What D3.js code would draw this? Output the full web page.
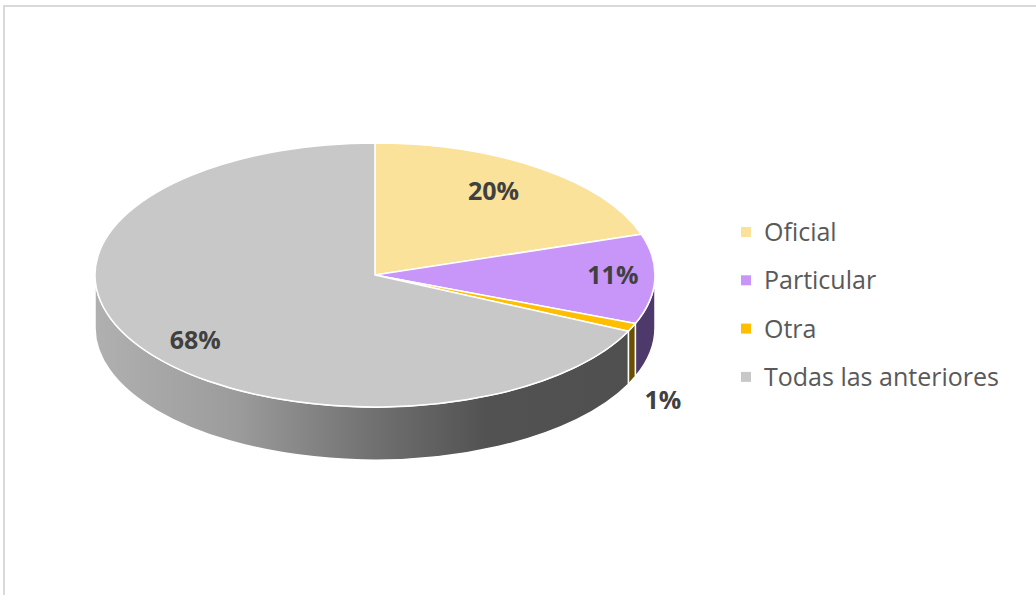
<!DOCTYPE html>
<html>
<head>
<meta charset="utf-8">
<script src="https://cdn.jsdelivr.net/npm/d3@7"></script>
<style>
  html, body { margin: 0; padding: 0; background: #fff; overflow: hidden; }
  text { font-family: "Open Sans", "Noto Sans", sans-serif; }
</style>
</head>
<body>
<script>
// data van de grafiek
var categorieen = ["Oficial", "Particular", "Otra", "Todas las anteriores"];
var waarden = [20, 11, 1, 68];
var labels = ["20%", "11%", "1%", "68%"];
var kleurBoven = ["#fae29a", "#c896f8", "#ffbf00", "#c8c8c8"];
var kleurZijkant = ["#7d6b3a", "#4e3a6a", "#6a5000", "url(#grijsZijkant)"];

var breedte = 1036, hoogte = 595;
var midden = {x: 375, y: 275};
var rx = 280, ry = 132, diepte = 53;

var svg = d3.select("body").append("svg")
    .attr("width", breedte)
    .attr("height", hoogte);

// rand van het grafiekgebied
svg.append("rect")
   .attr("x", 4).attr("y", 6)
   .attr("width", breedte + 10).attr("height", hoogte + 10)
   .attr("fill", "#fff")
   .attr("stroke", "#d9d9d9")
   .attr("stroke-width", 2);

// verloop voor de grijze zijkant
var verloop = svg.append("defs").append("linearGradient")
    .attr("id", "grijsZijkant")
    .attr("gradientUnits", "userSpaceOnUse")
    .attr("x1", midden.x - rx).attr("x2", midden.x + rx)
    .attr("y1", 0).attr("y2", 0);
[[0, "#b0b0b0"], [0.25, "#9c9c9c"], [0.5, "#707070"], [0.7, "#525252"], [1, "#4f4f4f"]]
  .forEach(function(s) {
    verloop.append("stop").attr("offset", s[0]).attr("stop-color", s[1]);
  });

var taart = d3.pie().sort(null).startAngle(0).endAngle(2 * Math.PI);
var stukken = taart(waarden);

function punt(a, f, dy) {
  f = f || 1; dy = dy || 0;
  return [midden.x + rx * f * Math.sin(a), midden.y - ry * f * Math.cos(a) + dy];
}

function bovenPad(d) {
  var p0 = punt(d.startAngle), p1 = punt(d.endAngle);
  var groot = (d.endAngle - d.startAngle) > Math.PI ? 1 : 0;
  return "M" + midden.x + "," + midden.y + "L" + p0 + "A" + rx + "," + ry + " 0 " + groot + " 1 " + p1 + "Z";
}

function zijPad(d) {
  var b0 = Math.max(d.startAngle, Math.PI / 2);
  var b1 = Math.min(d.endAngle, 3 * Math.PI / 2);
  if (b0 >= b1) return null;
  var p0 = punt(b0), p1 = punt(b1), q0 = punt(b0, 1, diepte), q1 = punt(b1, 1, diepte);
  return "M" + p0 + "A" + rx + "," + ry + " 0 0 1 " + p1 + "L" + q1 +
         "A" + rx + "," + ry + " 0 0 0 " + q0 + "Z";
}

// zijkanten
svg.append("g").selectAll("path")
   .data(stukken.filter(function(d) { return zijPad(d) !== null; }))
   .enter().append("path")
   .attr("d", zijPad)
   .attr("fill", function(d) { return kleurZijkant[d.index]; })
   .attr("stroke", "#fff")
   .attr("stroke-width", 1.5)
   .attr("stroke-linejoin", "round");

// bovenkant
svg.append("g").selectAll("path")
   .data(stukken)
   .enter().append("path")
   .attr("d", bovenPad)
   .attr("fill", function(d, i) { return kleurBoven[i]; })
   .attr("stroke", "#fff")
   .attr("stroke-width", 1.5)
   .attr("stroke-linejoin", "round");

// labels
svg.append("g").selectAll("text")
   .data(stukken)
   .enter().append("text")
   .attr("transform", function(d) {
     var a = (d.startAngle + d.endAngle) / 2;
     var p;
     if (d.value < 3) p = punt(a, 1.12, diepte + 14);
     else if (d.index === 1) p = punt(a, 0.85, -3);
     else if (d.index === 3) p = punt(a, 0.76, 11);
     else p = punt(a, 0.72, -7);
     return "translate(" + p + ")";
   })
   .attr("text-anchor", "middle")
   .attr("dy", "0.35em")
   .attr("font-size", "25px")
   .attr("font-weight", "bold")
   .attr("fill", "#404040")
   .text(function(d, i) { return labels[i]; });

// legenda
var legenda = svg.append("g").attr("transform", "translate(741,232)");
var rij = legenda.selectAll("g")
   .data(categorieen)
   .enter().append("g")
   .attr("transform", function(d, i) { return "translate(0," + (i * 48.3) + ")"; });
rij.append("rect")
   .attr("x", 0).attr("y", -5)
   .attr("width", 10).attr("height", 10)
   .attr("fill", function(d, i) { return kleurBoven[i]; });
rij.append("text")
   .attr("x", 23)
   .attr("dy", "0.36em")
   .attr("font-size", "25px")
   .attr("fill", "#595959")
   .text(function(d) { return d; });
</script>
</body>
</html>
